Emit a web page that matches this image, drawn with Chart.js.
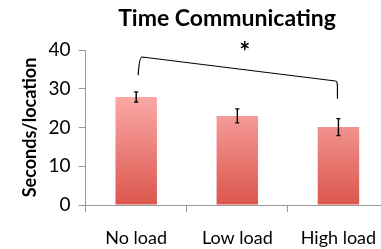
<!DOCTYPE html>
<html>
<head>
<meta charset="utf-8">
<script src="https://cdn.jsdelivr.net/npm/chart.js@4/dist/chart.umd.min.js"></script>
<style>
  html, body { margin: 0; padding: 0; background: #fff; overflow: hidden; }
  #wrap { width: 454px; height: 249px; }
</style>
</head>
<body>
<div id="wrap"><canvas id="myChart"></canvas></div>
<script>
var categories = ["No load", "Low load", "High load"];
var seconds = [27.9, 23.0, 20.1];
var errors = [1.3, 1.8, 2.2];
var yTicks = [0, 10, 20, 30, 40];
var chartTitle = "Time Communicating";

// significance bracket between first and last group (values in axis units)
var bracketFrom = 0, bracketTo = 2;
var bracketLeft = [33.5, 38.2];
var bracketRight = [32.0, 27.4];
var starLabel = "*";

var ctx = document.getElementById('myChart');

var extras = {
  id: 'extras',
  afterDatasetsDraw(chart) {
    var c = chart.ctx, x = chart.scales.x, y = chart.scales.y;
    c.save();
    c.strokeStyle = '#000';
    c.lineWidth = 1.4;
    // error bars
    seconds.forEach(function (v, i) {
      var px = x.getPixelForValue(i);
      var top = y.getPixelForValue(v + errors[i]);
      var bot = y.getPixelForValue(v - errors[i]);
      c.beginPath();
      c.moveTo(px, top); c.lineTo(px, bot);
      c.moveTo(px - 2, top); c.lineTo(px + 2, top);
      c.moveTo(px - 2, bot); c.lineTo(px + 2, bot);
      c.stroke();
    });
    // bracket
    var lx = x.getPixelForValue(bracketFrom) + 4;
    var rx = x.getPixelForValue(bracketTo) - 1;
    c.lineWidth = 1.2;
    c.beginPath();
    c.moveTo(lx - 2, y.getPixelForValue(bracketLeft[0]));
    c.quadraticCurveTo(lx - 1, y.getPixelForValue(bracketLeft[1]), lx + 2, y.getPixelForValue(bracketLeft[1]));
    c.lineTo(rx - 2, y.getPixelForValue(bracketRight[0]));
    c.quadraticCurveTo(rx, y.getPixelForValue(bracketRight[0]), rx, y.getPixelForValue(bracketRight[0] - 1.5));
    c.lineTo(rx, y.getPixelForValue(bracketRight[1]));
    c.stroke();
    c.fillStyle = '#000';
    c.font = 'bold 26px Lato';
    c.textAlign = 'center';
    c.textBaseline = 'middle';
    c.fillText(starLabel, (lx + rx) / 2 + 6, y.getPixelForValue(39.2));
    // title, centred on the whole canvas
    c.font = 'bold 23px Lato';
    c.fillText(chartTitle, chart.width / 2, 19);
    c.restore();
  }
};

function barGradient(context) {
  var chart = context.chart, area = chart.chartArea;
  if (!area) return '#f08080';
  var y = chart.scales.y;
  var g = chart.ctx.createLinearGradient(0, y.getPixelForValue(0), 0, y.getPixelForValue(29));
  g.addColorStop(0, 'rgb(219,86,77)');
  g.addColorStop(1, 'rgb(252,172,170)');
  return g;
}

var config = {
  type: 'bar',
  data: {
    labels: categories,
    datasets: [{
      data: seconds,
      backgroundColor: barGradient,
      borderWidth: 0,
      categoryPercentage: 1,
      barPercentage: 0.41
    }]
  },
  options: {
    responsive: true,
    maintainAspectRatio: false,
    animation: false,
    layout: { padding: { top: 50, right: 65, left: 19, bottom: 0 } },
    plugins: {
      legend: { display: false },
      tooltip: { enabled: false },
      title: { display: false }
    },
    scales: {
      x: {
        afterFit: function (axis) { axis.height = 44; },
        grid: { drawOnChartArea: false, color: '#999', tickLength: 7, offset: true },
        border: { color: '#999' },
        ticks: { color: '#000', font: { family: 'Lato', size: 18 }, padding: 15 }
      },
      y: {
        min: 0,
        max: 40,
        afterBuildTicks: function (axis) { axis.ticks = yTicks.map(function (v) { return { value: v }; }); },
        grid: { drawOnChartArea: false, color: '#999', tickLength: 7 },
        border: { color: '#999' },
        ticks: { color: '#000', font: { family: 'Lato', size: 19 }, padding: 8 },
        title: {
          display: true,
          text: 'Seconds/location',
          color: '#000',
          font: { family: 'Lato', size: 18, weight: 'bold' },
          padding: { top: 0, bottom: 0 }
        }
      }
    }
  },
  plugins: [extras]
};

var myChart = new Chart(ctx, config);
</script>
</body>
</html>
